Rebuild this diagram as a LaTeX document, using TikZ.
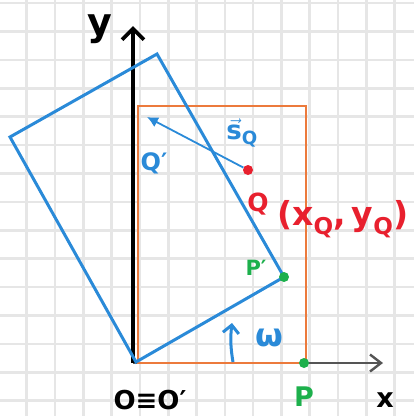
\documentclass[tikz,border=0pt]{standalone}
\usepackage{fontspec}
\setmainfont{DejaVu Sans}
\usetikzlibrary{arrows.meta}
\definecolor{gridc}{HTML}{E6E6E6}
\definecolor{orng}{HTML}{EC7A3C}
\definecolor{blu}{HTML}{2A8AD8}
\definecolor{grn}{HTML}{1DB04C}
\definecolor{rd}{HTML}{E8202E}
\definecolor{axisgray}{HTML}{555555}
\begin{document}
\begin{tikzpicture}[x=1pt,y=-1pt,
  gridline/.style={gridc, line width=2.6pt},
  rectorange/.style={orng, line width=2.8pt},
  rectblue/.style={blu, line width=3pt},
  dotg/.style={circle, fill=grn, inner sep=0pt, minimum size=10pt},
  dotr/.style={circle, fill=rd, inner sep=0pt, minimum size=10pt},
  lbl/.style={inner sep=0pt, font=\bfseries}]
\useasboundingbox (0,0) rectangle (414,416);
\fill[white] (0,0) rectangle (414,416);
\foreach \k in {1,...,14} \draw[gridline] ({-1.6+28.3*\k},0) -- ({-1.6+28.3*\k},416);
\foreach \k in {0,...,14} \draw[gridline] (0,{3+28.4*\k}) -- (414,{3+28.4*\k});

% coordinates
\coordinate (O) at (133,363);
\coordinate (ytip) at (133,26);
\coordinate (xtip) at (383,363);
\coordinate (Op) at (136,362);
\coordinate (Pp) at (284,277);
\coordinate (Tp) at (157,54);
\coordinate (Lp) at (10,137);

% axes
\draw[axisgray, line width=2.4pt, -{Straight Barb[length=11pt,width=17pt]}] (O) -- (xtip);
\draw[black, line width=3.8pt, -{Straight Barb[length=11pt,width=22pt]}] (O) -- (ytip);

% orange rectangle
\draw[rectorange] (138,106) rectangle (306,363);

% blue rotated rectangle
\draw[rectblue, line join=miter] (Op) -- (Pp) -- (Tp) -- (Lp) -- cycle;

% points
\node[dotg] (P) at (304,363) {};
\node[dotg] (Ppd) at (Pp) {};
\node[dotr] (Q) at (248,170) {};
\coordinate (Qp) at (147,117);

% displacement arrow
\draw[blu, line width=1.8pt, -{Latex[length=11pt,width=11pt]}] (Q) -- (Qp);

% omega arrow
\coordinate (wb) at (233,362);
\coordinate (wt) at (232,323);
\draw[blu, line width=3pt, -{Straight Barb[length=8pt,width=16pt]}] (wb) to[bend left=8] (wt);

% labels
\node[lbl, font=\bfseries\fontsize{38}{38}\selectfont] (ylab) at (100,29) {y};
\node[lbl, font=\bfseries\fontsize{27}{27}\selectfont] (xlab) at (385,400) {x};
\node[lbl, font=\bfseries\fontsize{26}{26}\selectfont] (Olab) at (150,400) {O≡O′};
\node[lbl, grn, font=\bfseries\fontsize{27}{27}\selectfont] (Plab) at (304,397) {P};
\node[lbl, grn, font=\bfseries\fontsize{21}{21}\selectfont] (Pplab) at (256,268) {P′};
\node[lbl, blu, font=\bfseries\fontsize{24}{24}\selectfont] (Qplab) at (154,163) {Q′};
\node[lbl, blu, font=\bfseries\fontsize{26}{26}\selectfont] (slab) at (242,133) {$\vec{\textbf{s}}$\textsubscript{Q}};
\node[lbl, rd, font=\bfseries\fontsize{25}{25}\selectfont] (Qlab) at (258,204) {Q};
\node[lbl, rd, font=\bfseries\fontsize{33}{33}\selectfont] (Qcoord) at (343,219) {(x\textsubscript{Q},\,y\textsubscript{Q})};
\node[lbl, blu, font=\bfseries\fontsize{32}{32}\selectfont] (wlab) at (269,338) {ω};
\end{tikzpicture}
\end{document}
